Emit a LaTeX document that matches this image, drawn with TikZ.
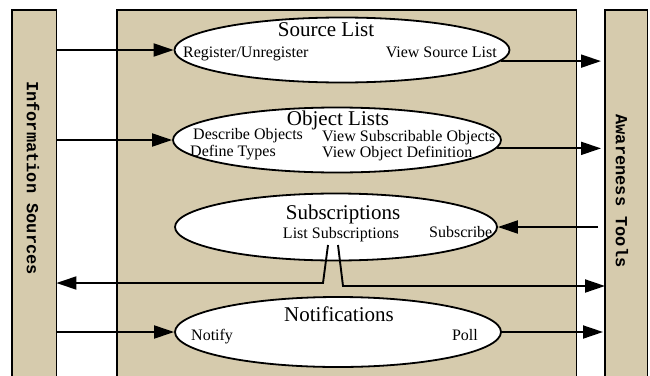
\documentclass[tikz,border=0pt]{standalone}
\usepackage{fontspec}
\setmainfont{Liberation Serif}
\newfontfamily\sidefont{Liberation Mono}
\usetikzlibrary{shapes.geometric,arrows.meta}
\definecolor{panel}{RGB}{214,203,173}
\begin{document}
\begin{tikzpicture}[x=1pt,y=-1pt,
  border/.style={draw=black,line width=1.8pt},
  bar/.style={fill=panel,inner sep=0pt,anchor=north west},
  oval/.style={ellipse,draw=black,line width=1.8pt,fill=white,inner sep=0pt},
  ttl/.style={font=\fontsize{21}{23}\selectfont,inner sep=0pt,anchor=base},
  lab/.style={font=\fontsize{16}{17}\selectfont,inner sep=0pt},
  conn/.style={line width=1.9pt,-{Triangle[length=20pt,width=13pt]}},
  side/.style={font=\sidefont\bfseries\fontsize{17}{19}\selectfont,rotate=-90,inner sep=0pt}
]
\useasboundingbox (0,0) rectangle (650,375);
\clip (0,0) rectangle (650,375);
% panels
\node[bar,minimum width=44pt,minimum height=370pt] (ls) at (12,10) {};
\node[bar,minimum width=459pt,minimum height=370pt] (mid) at (117,10) {};
\node[bar,minimum width=42pt,minimum height=370pt] (rs) at (605,10) {};
\draw[border] (ls.south west) |- (ls.north east) -- (ls.south east);
\draw[border] (mid.south west) |- (mid.north east) -- (mid.south east);
\draw[border] (rs.south west) |- (rs.north east) -- (rs.south east);
\node[side] (lstext) at (33,178) {Information Sources};
\node[side] (rstext) at (622,191) {Awareness Tools};
% ellipses
\node[oval,minimum width=335pt,minimum height=65pt] (sl) at (342,50) {};
\node[oval,minimum width=328pt,minimum height=65pt] (ol) at (337,140) {};
\node[oval,minimum width=322pt,minimum height=67pt] (sb) at (336,227) {};
\node[oval,minimum width=326pt,minimum height=70pt] (nt) at (338,332) {};
% texts
\node[ttl] (slt) at (326,36) {Source List};
\node[lab,anchor=base west] (reg) at (183,57) {Register/Unregister};
\node[lab,anchor=base east] (vsl) at (497,57) {View Source List};
\node[ttl] (olt) at (338,125) {Object Lists};
\node[lab,anchor=base west] (dobj) at (193,139) {Describe Objects};
\node[lab,anchor=base west] (dtyp) at (190,156) {Define Types};
\node[lab,anchor=base west] (vso) at (322,141) {View Subscribable Objects};
\node[lab,anchor=base west] (vod) at (322,157.5) {View Object Definition};
\node[ttl] (sbt) at (343,219) {Subscriptions};
\node[lab,anchor=base] (lsub) at (341,238) {List Subscriptions};
\node[lab,anchor=base west] (subs) at (429,237) {Subscribe};
\node[ttl] (ntt) at (339,321) {Notifications};
\node[lab,anchor=base west] (ntf) at (191,340) {Notify};
\node[lab,anchor=base east] (pol) at (478,340) {Poll};
% connectors
\draw[conn] (ls.east |- sl.west) -- (sl.west);
\draw[conn] (ls.east |- ol.west) -- (ol.west);
\draw[conn] (ls.east |- nt.west) -- (nt.west);
\draw[conn,shorten >=4pt] (sl.-4) -- (rs.west |- sl.-4);
\draw[conn,shorten >=4pt] (ol.-3) -- (rs.west |- ol.-3);
\draw[conn,shorten >=2pt] (nt.east) -- (rs.west |- nt.east);
\coordinate (sbin) at ([xshift=-7pt]rs.west |- sb.east);
\draw[conn] (sbin) -- (sb.east);
\coordinate (la) at (328,245);
\coordinate (lb) at (323,283);
\coordinate (ra) at (338,245);
\coordinate (rb) at (343,286);
\draw[conn,line join=miter] (la) -- (lb) -- (ls.east |- lb);
\draw[conn,line join=miter] (ra) -- (rb) -- (rs.west |- rb);
\end{tikzpicture}
\end{document}
